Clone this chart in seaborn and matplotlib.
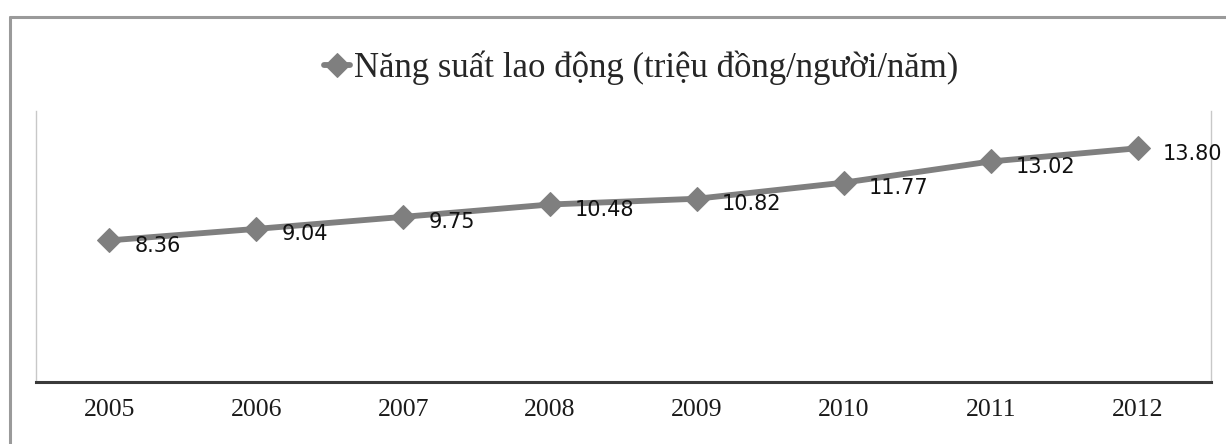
import matplotlib
matplotlib.use("Agg")
import matplotlib.pyplot as plt
import seaborn as sns
import pandas as pd
from matplotlib.lines import Line2D

sns.set_theme(style="white")
plt.rcParams['font.family'] = ['Liberation Serif', 'DejaVu Serif']

# du lieu
nam = ['2005', '2006', '2007', '2008', '2009', '2010', '2011', '2012']
nang_suat = [8.36, 9.04, 9.75, 10.48, 10.82, 11.77, 13.02, 13.80]
ten_chuoi = 'Năng suất lao động (triệu đồng/người/năm)'

df = pd.DataFrame({'Năm': nam, 'Giá trị': nang_suat})

fig = plt.figure(figsize=(12.26, 4.44), dpi=100)
ax = fig.add_axes([36 / 1226, 1 - 382 / 444, (1211 - 36) / 1226, (382 - 111) / 444])

mau = '#7f7f7f'
sns.lineplot(data=df, x='Năm', y='Giá trị', ax=ax, color=mau, linewidth=4.2,
             marker='D', markersize=12, markeredgecolor=mau, label=ten_chuoi)

# nhan du lieu
for i, v in enumerate(nang_suat):
    ax.annotate(f'{v:.2f}', (i, v), xytext=(18, -4), textcoords='offset points',
                ha='left', va='center', fontsize=15, color='#111111',
                family=['DejaVu Sans'])

ax.set_xlim(-0.5, 7.5)
ax.set_ylim(0, 16)
ax.set_yticks([])
ax.set_xlabel('')
ax.set_ylabel('')
ax.tick_params(axis='x', length=0, pad=12, labelsize=18.5, labelcolor='#1a1a1a')

for s in ['left', 'right']:
    ax.spines[s].set_color('#c8c8c8')
    ax.spines[s].set_linewidth(1.0)
ax.spines['top'].set_visible(False)
ax.spines['bottom'].set_color('#3a3a3a')
ax.spines['bottom'].set_linewidth(2.2)

# chu giai o tren
ax.legend(loc='center', bbox_to_anchor=(641 / 1226, 1 - 68 / 444),
          bbox_transform=fig.transFigure, frameon=False, fontsize=25,
          handlelength=0.75, handletextpad=0.1, borderaxespad=0)

# khung ngoai
fig.add_artist(Line2D([10 / 1226, 1.0], [1 - 17 / 444, 1 - 17 / 444],
                      transform=fig.transFigure, color='#9a9a9a', linewidth=2.2))
fig.add_artist(Line2D([10 / 1226, 10 / 1226], [0, 1 - 17 / 444],
                      transform=fig.transFigure, color='#9a9a9a', linewidth=2.2))

plt.savefig('out.png', dpi=100)
plt.close()
